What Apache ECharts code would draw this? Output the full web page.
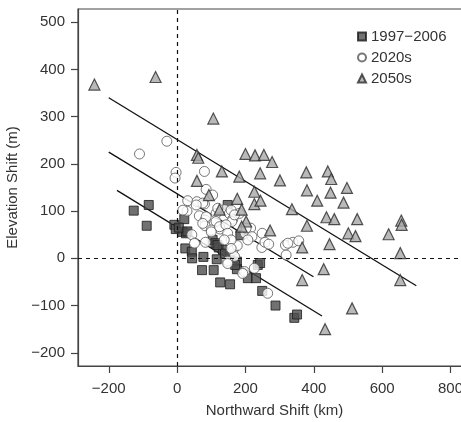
<!DOCTYPE html>
<html>
<head>
<meta charset="utf-8">
<script src="https://cdn.jsdelivr.net/npm/echarts@6/dist/echarts.min.js"></script>
<style>
  html, body { margin: 0; padding: 0; background: #fff; }
  #chart { width: 461px; height: 422px; }
</style>
</head>
<body>
<div id="chart"></div>
<script>
// [northward km, elevation m]
const obs = [[-127,101],[-83,113],[-89,69],[-8,71],[-4,62],[15,56],[21,83],[26,53],[24,21],[43,14],
  [44,0],[77,3],[73,-25],[107,-25],[116,-2],[126,-51],[155,-55],[104,39],[112,32],[122,23],
  [134,18],[148,113],[185,49],[175,-7],[175,-23],[207,-42],[231,-42],[236,-14],[243,-10],[249,-69],
  [288,-100],[343,-126],[351,-119],[5,65],[30,57],[154,8],[118,28],[140,10],[170,-14]];
const s2020 = [[-110,221],[-30,248],[-3,182],[-6,170],[80,184],[85,146],[104,134],[31,122],[58,120],[29,100],
  [65,90],[80,115],[82,81],[82,69],[100,60],[114,95],[126,62],[139,103],[153,95],[163,83],
  [160,78],[182,95],[199,53],[215,64],[219,46],[249,53],[248,23],[257,34],[268,30],[317,28],
  [319,7],[339,34],[356,37],[43,50],[51,32],[83,34],[163,16],[168,4],[148,-6],[176,27],
  [197,-28],[265,-74],[17,102],[75,117],[85,88],[75,74],[119,106],[158,102],[168,92],[114,78],
  [124,67],[143,71],[100,56],[148,53],[158,39],[138,39],[158,21],[207,39],[202,64],[324,32],
  [148,-11],[192,-32],[226,-21],[56,113]];
const s2050 = [[-242,368],[-63,384],[106,296],[58,219],[62,213],[131,184],[58,164],[182,173],[200,221],[228,218],
  [254,219],[278,204],[243,180],[301,165],[226,141],[226,115],[244,122],[93,134],[176,126],[189,103],
  [124,103],[202,78],[272,59],[336,104],[378,182],[380,144],[380,69],[366,23],[366,-46],[410,122],
  [441,184],[451,168],[449,139],[437,87],[460,83],[446,30],[429,-23],[433,-150],[497,149],[487,118],
  [501,53],[522,47],[527,83],[512,-106],[619,51],[656,80],[657,71],[653,11],[653,-46],[189,67]];

// fitted lines: start and end points
const fitObs = [[-176,144],[424,-122]];
const fit2020 = [[-200,225],[399,-39]];
const fit2050 = [[-200,340],[700,-58]];

const xTicks = [-200, 0, 200, 400, 600, 800];
const yTicks = [-200, -100, 0, 100, 200, 300, 400, 500];

const font = "'Liberation Sans', Arial, sans-serif";
const txt = '#333';
const axisCol = '#444';

const chart = echarts.init(document.getElementById('chart'), null, { renderer: 'canvas' });

function fitLine(d) {
  return {
    type: 'line', data: d, symbol: 'none', silent: true,
    lineStyle: { color: '#111', width: 1.3 }, z: 3
  };
}

chart.setOption({
  animation: false,
  backgroundColor: '#fff',
  textStyle: { fontFamily: font },
  grid: {
    left: 78, top: 9, width: 393, height: 357,
    outerBoundsMode: 'none', containLabel: false,
    show: true, borderColor: axisCol, borderWidth: 1.2, backgroundColor: 'transparent'
  },
  legend: {
    orient: 'vertical', left: 352, top: 24, itemGap: 6,
    itemWidth: 8, itemHeight: 8,
    textStyle: { fontSize: 15, color: txt, fontFamily: font },
    data: ['1997\u22122006', '2020s', '2050s']
  },
  xAxis: {
    type: 'value', min: -290, max: 860,
    name: 'Northward Shift (km)', nameLocation: 'middle', nameGap: 37,
    nameTextStyle: { fontSize: 15, color: txt },
    splitLine: { show: false },
    axisLine: { show: true, onZero: false, lineStyle: { color: axisCol, width: 1.2 } },
    axisTick: { show: true, length: 7, customValues: xTicks, lineStyle: { color: axisCol, width: 1.2 } },
    axisLabel: {
      customValues: xTicks, margin: 15, fontSize: 15, color: txt,
      formatter: v => String(v).replace('-', '\u2212')
    }
  },
  yAxis: {
    type: 'value', min: -228, max: 528,
    name: 'Elevation Shift (m)', nameLocation: 'middle', nameGap: 58,
    nameTextStyle: { fontSize: 15, color: txt },
    splitLine: { show: false },
    axisLine: { show: true, onZero: false, lineStyle: { color: axisCol, width: 1.2 } },
    axisTick: { show: true, length: 7, customValues: yTicks, lineStyle: { color: axisCol, width: 1.2 } },
    axisLabel: {
      customValues: yTicks, margin: 13, fontSize: 15, color: txt,
      formatter: v => String(v).replace('-', '\u2212')
    }
  },
  series: [
    {
      name: '1997\u22122006', type: 'scatter', data: obs, symbol: 'rect', symbolSize: 9,
      itemStyle: { color: '#4d4d4d', borderColor: '#1a1a1a', borderWidth: 1 }, z: 4,
      markLine: {
        silent: true, symbol: 'none', label: { show: false },
        lineStyle: { color: '#111', type: [4, 4], width: 1.2 },
        data: [{ xAxis: 0 }, { yAxis: 0 }]
      }
    },
    {
      name: '2020s', type: 'scatter', data: s2020, symbol: 'circle', symbolSize: 10,
      itemStyle: { color: '#fff', borderColor: '#555', borderWidth: 1 }, z: 4
    },
    {
      name: '2050s', type: 'scatter', data: s2050, symbol: 'triangle', symbolSize: 11,
      itemStyle: { color: '#a8a8a8', borderColor: '#2a2a2a', borderWidth: 1.2 }, z: 4
    },
    fitLine(fitObs),
    fitLine(fit2020),
    fitLine(fit2050)
  ]
});
</script>
</body>
</html>
